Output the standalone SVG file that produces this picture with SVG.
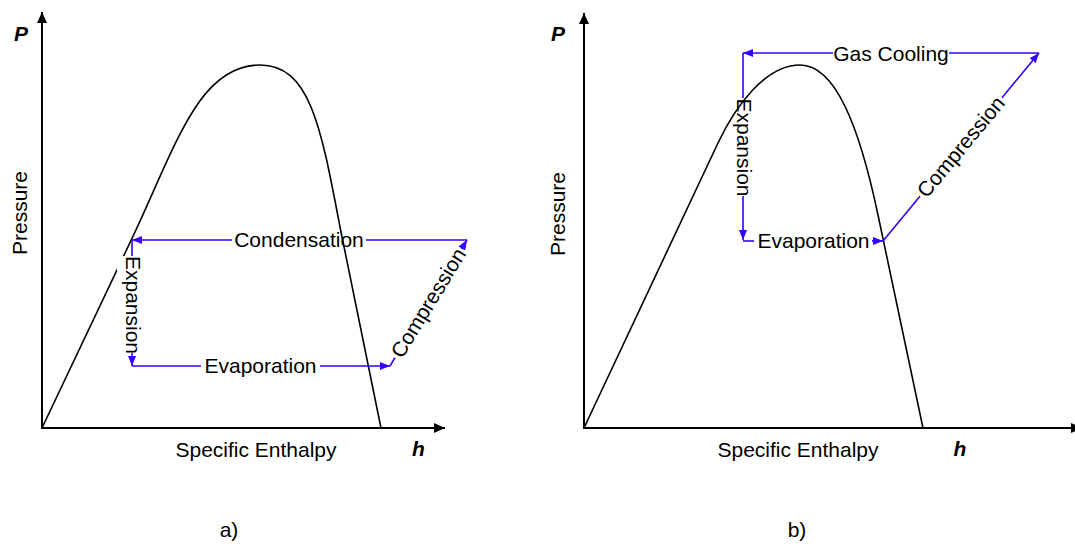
<svg xmlns="http://www.w3.org/2000/svg" width="1075" height="544" viewBox="0 0 1075 544">
  <style>
    text { font-family: "Liberation Sans", Arial, sans-serif; font-size: 21px; fill: #000; }
    .lbl { text-anchor: middle; }
    .bi { font-weight: bold; font-style: italic; }
    .axis { stroke: #000; stroke-width: 2; fill: none; }
    .curve { stroke: #000; stroke-width: 1.6; fill: none; }
    .flow { stroke: #3300ff; stroke-width: 1.6; fill: none; }
  </style>
  <defs>
    <marker id="ah" markerUnits="userSpaceOnUse" markerWidth="12" markerHeight="10" refX="11" refY="5" orient="auto">
      <path d="M0,0 L11,5 L0,10 z" fill="#000"/>
    </marker>
    <marker id="bh" markerUnits="userSpaceOnUse" markerWidth="10" markerHeight="8" refX="10" refY="4" orient="auto">
      <path d="M0,0 L10,4 L0,8 z" fill="#3300ff"/>
    </marker>
  </defs>
  <rect width="1075" height="544" fill="#fff"/>

  <!-- Panel a -->
  <g id="panel-a-axes">
    <line class="axis" x1="42" y1="429" x2="42" y2="12" marker-end="url(#ah)"/>
    <line class="axis" x1="41" y1="428" x2="445" y2="428" marker-end="url(#ah)"/>
    <text class="lbl bi" x="21" y="41">P</text>
    <text class="lbl" transform="translate(27,213) rotate(-90)">Pressure</text>
    <text class="lbl" x="256" y="457">Specific Enthalpy</text>
    <text class="lbl bi" x="418.5" y="456">h</text>
    <text class="lbl" x="229" y="537">a)</text>
  </g>
  <g id="panel-a-dome">
    <path class="curve" d="M42,428 L135,232 C177,142 200,65 260,65 C310,65 321,127 340,227 L381,428"/>
    <rect x="117" y="256" width="22" height="97" fill="#fff"/>
  </g>
  <g id="panel-a-cycle">
    <g id="a-condensation">
      <line class="flow" x1="467" y1="240" x2="366" y2="240"/>
      <line class="flow" x1="232" y1="240" x2="132" y2="240" marker-end="url(#bh)"/>
      <text class="lbl" x="299" y="247">Condensation</text>
    </g>
    <g id="a-expansion">
      <line class="flow" x1="132" y1="240" x2="132" y2="256"/>
      <line class="flow" x1="132" y1="353" x2="132" y2="366" marker-end="url(#bh)"/>
      <text class="lbl" transform="translate(132,305) rotate(90)" y="6.5">Expansion</text>
    </g>
    <g id="a-evaporation">
      <line class="flow" x1="132" y1="366" x2="201" y2="366"/>
      <line class="flow" x1="320" y1="366" x2="390" y2="366" marker-end="url(#bh)"/>
      <text class="lbl" x="260.5" y="373">Evaporation</text>
    </g>
    <g id="a-compression">
      <line class="flow" x1="390" y1="366" x2="395" y2="357.6"/>
      <line class="flow" x1="461.5" y1="249" x2="467" y2="240" marker-end="url(#bh)"/>
      <text class="lbl" transform="translate(428.5,303) rotate(-58.57)" y="7">Compression</text>
    </g>
  </g>

  <!-- Panel b -->
  <g id="panel-b-axes">
    <line class="axis" x1="584" y1="429" x2="584" y2="13" marker-end="url(#ah)"/>
    <line class="axis" x1="583" y1="428" x2="1082" y2="428" marker-end="url(#ah)"/>
    <text class="lbl bi" x="558" y="41">P</text>
    <text class="lbl" transform="translate(565,214) rotate(-90)">Pressure</text>
    <text class="lbl" x="798" y="457">Specific Enthalpy</text>
    <text class="lbl bi" x="960" y="456">h</text>
    <text class="lbl" x="797" y="537">b)</text>
  </g>
  <g id="panel-b-dome">
    <path class="curve" d="M584,428 L718,143 C735,107 765,65 800,65 C835,65 859,125 878,215 L923,428"/>
  </g>
  <g id="panel-b-cycle">
    <g id="b-gascooling">
      <line class="flow" x1="1039" y1="53" x2="949" y2="53"/>
      <line class="flow" x1="833" y1="53" x2="743" y2="53" marker-end="url(#bh)"/>
      <text class="lbl" x="891" y="61">Gas Cooling</text>
    </g>
    <g id="b-expansion">
      <line class="flow" x1="743" y1="53" x2="743" y2="98"/>
      <line class="flow" x1="743" y1="196" x2="743" y2="240" marker-end="url(#bh)"/>
      <text class="lbl" transform="translate(743,147.5) rotate(90)" y="6.5">Expansion</text>
    </g>
    <g id="b-evaporation">
      <line class="flow" x1="743" y1="241" x2="754" y2="241"/>
      <line class="flow" x1="872" y1="241" x2="883" y2="241" marker-end="url(#bh)"/>
      <text class="lbl" x="813.5" y="248">Evaporation</text>
    </g>
    <g id="b-compression">
      <line class="flow" x1="883" y1="241" x2="920" y2="196.3"/>
      <line class="flow" x1="1002" y1="97.7" x2="1039" y2="53" marker-end="url(#bh)"/>
      <text class="lbl" transform="translate(961,147) rotate(-50.3)" y="7">Compression</text>
    </g>
  </g>
</svg>
